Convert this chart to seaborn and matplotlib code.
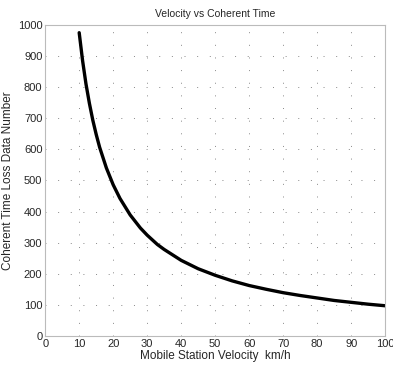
import numpy as np
import pandas as pd
import matplotlib
matplotlib.use('Agg')
import matplotlib.pyplot as plt
import seaborn as sns

# values
velocity = [10, 11, 12, 13, 14, 15, 16, 18, 20, 22, 25, 28, 30, 33, 35, 40, 45, 50,
            55, 60, 65, 70, 75, 80, 85, 90, 95, 100]
loss_number = [975, 885, 810, 748, 694, 648, 607, 540, 486, 442, 389, 347, 324, 294,
               278, 243, 216, 195, 177, 162, 150, 139, 130, 122, 114, 108, 102, 97]

data = pd.DataFrame({'velocity': velocity, 'loss': loss_number})

sns.set_style('white')
plt.rcParams['font.family'] = ['Liberation Sans Narrow', 'Liberation Sans', 'DejaVu Sans']

fig, ax = plt.subplots(figsize=(3.93, 3.72), dpi=100)
fig.subplots_adjust(left=0.115, right=0.98, top=0.933, bottom=0.097)

sns.lineplot(data=data, x='velocity', y='loss', color='black', linewidth=2.4, ax=ax)

ax.set_xlim(0, 100)
ax.set_ylim(0, 1000)
ax.set_xticks(np.arange(0, 101, 10))
ax.set_yticks(np.arange(0, 1001, 100))
ax.tick_params(labelsize=8, length=0, pad=2)
ax.grid(True, linestyle=(0, (1, 12)), color='#888888', linewidth=0.7)
for side in ax.spines.values():
    side.set_color('#bbbbbb')
    side.set_linewidth(0.8)

ax.set_title('Velocity vs Coherent Time', fontsize=7.5, pad=6)
ax.set_xlabel('Mobile Station Velocity  km/h', fontsize=8.5, labelpad=1)
ax.set_ylabel('Coherent Time Loss Data Number', fontsize=8.5, labelpad=3)

fig.savefig('out.png', dpi=100)
